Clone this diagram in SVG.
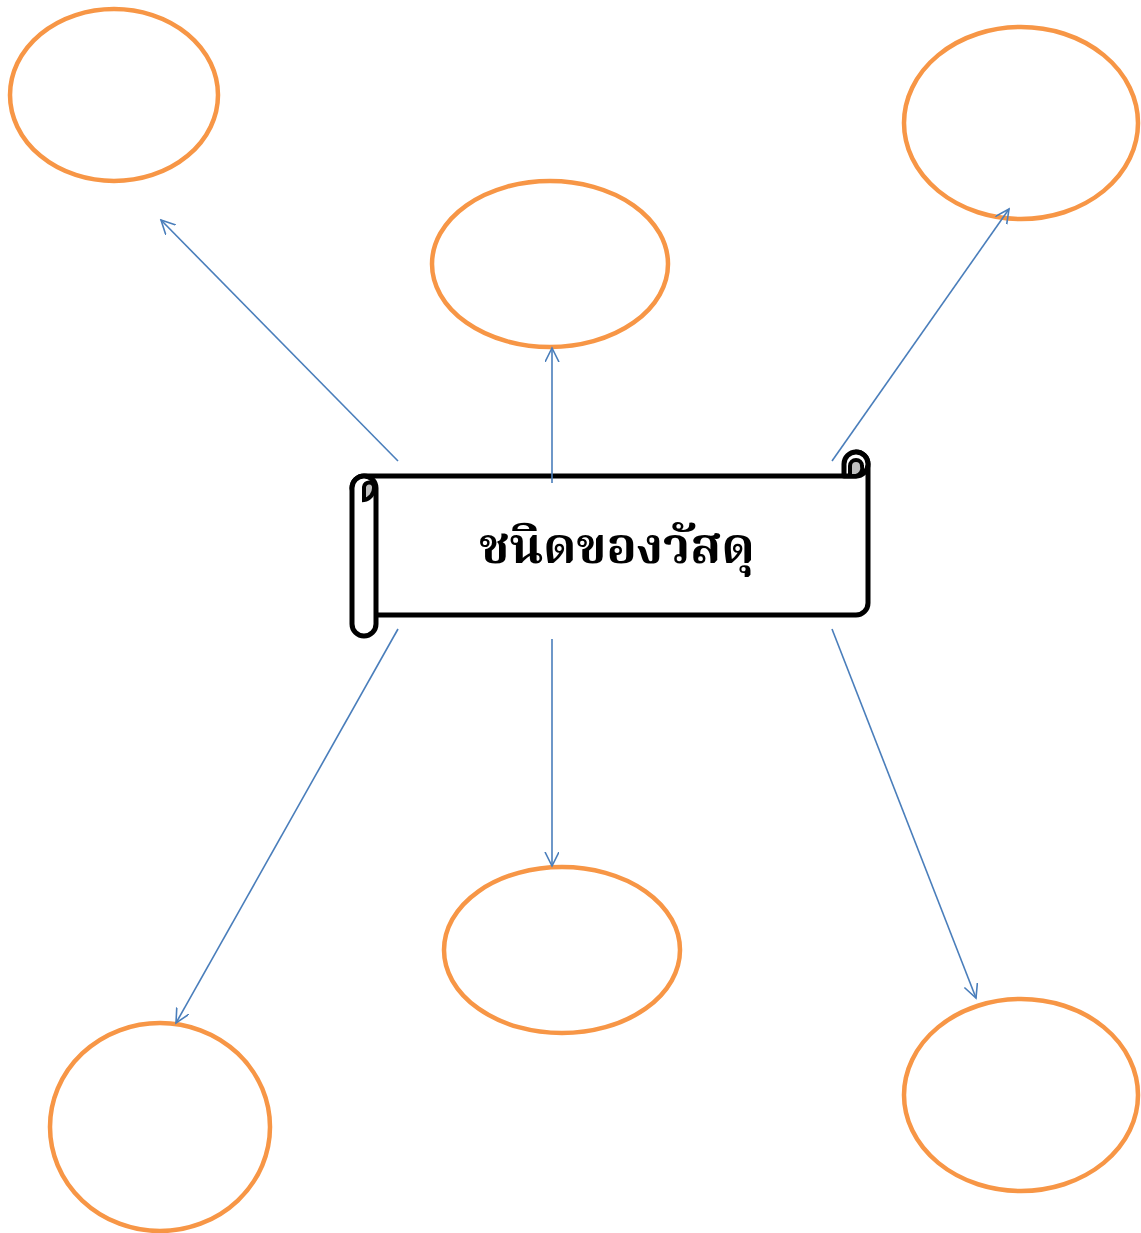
<svg xmlns="http://www.w3.org/2000/svg" width="1141" height="1233" viewBox="0 0 1141 1233">
<style>
.node ellipse{fill:none;stroke:#F79646;stroke-width:4.5}
.conn line{stroke:#4A7EBB;stroke-width:1.6;fill:none}
.scroll{fill:#fff;stroke:#000;stroke-width:5;stroke-linejoin:round;stroke-linecap:round}
.curl{fill:#BFBFBF;stroke:#000;stroke-width:4}
.title{font-family:"Noto Serif Thai","Noto Sans Thai","Loma","Garuda","DejaVu Serif",serif;font-weight:bold;font-size:50px;fill:#000}
</style>
<defs>
<marker id="ah" markerWidth="16" markerHeight="16" refX="14" refY="7" orient="auto" markerUnits="userSpaceOnUse">
<path d="M0,0 L14,7 L0,14" fill="none" stroke="#4A7EBB" stroke-width="1.6"/>
</marker>
</defs>
<rect width="1141" height="1233" fill="#fff"/>
<g id="n1" class="node"><ellipse cx="114" cy="95" rx="104" ry="86"/></g>
<g id="n2" class="node"><ellipse cx="550" cy="264" rx="118" ry="83"/></g>
<g id="n3" class="node"><ellipse cx="1021" cy="123" rx="117" ry="96"/></g>
<g id="n4" class="node"><ellipse cx="562" cy="950" rx="118" ry="83"/></g>
<g id="n5" class="node"><ellipse cx="160" cy="1127" rx="110" ry="104"/></g>
<g id="n6" class="node"><ellipse cx="1021" cy="1095" rx="117" ry="96"/></g>
<g id="center">
<path class="scroll" d="M352,488 A12,12 0 0 1 364,476 L856,476 L856,452 A12,12 0 0 1 868,464 L868,603 A12,12 0 0 1 856,615 L376,615 Z"/>
<path class="scroll" d="M844,476 L844,464 A12,12 0 0 1 868,464 A12,12 0 0 1 856,476 Z"/>
<path class="scroll" d="M376,488 L376,624 A12,12 0 0 1 352,624 L352,488 A12,12 0 0 1 376,488 Z"/>
<path class="curl" d="M364,498 L364,487 A5,5 0 0 1 374,488 A12,12 0 0 1 364,500 Z"/>
<path class="curl" d="M850,476 L850,466 A6,6 0 0 1 862,466 A8,8 0 0 1 856,476 Z"/>
<text class="title" x="617" y="563" text-anchor="middle">ชนิดของวัสดุ</text>
</g>
<g id="connectors" class="conn">
<line x1="398" y1="461" x2="161" y2="220" marker-end="url(#ah)"/>
<line x1="552" y1="483" x2="552" y2="348" marker-end="url(#ah)"/>
<line x1="832" y1="461" x2="1009" y2="209" marker-end="url(#ah)"/>
<line x1="398" y1="629" x2="176" y2="1023" marker-end="url(#ah)"/>
<line x1="552" y1="639" x2="552" y2="866" marker-end="url(#ah)"/>
<line x1="832" y1="629" x2="976" y2="998" marker-end="url(#ah)"/>
</g>
</svg>
